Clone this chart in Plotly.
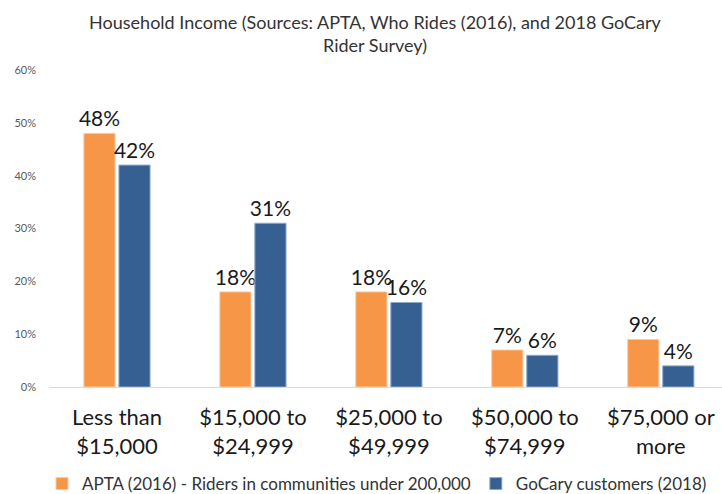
import plotly.graph_objects as go

categories = ["Less than<br>$15,000", "$15,000 to<br>$24,999", "$25,000 to<br>$49,999",
              "$50,000 to<br>$74,999", "$75,000 or<br>more"]
apta_values = [0.48, 0.18, 0.18, 0.07, 0.09]
gocary_values = [0.42, 0.31, 0.16, 0.06, 0.04]
series_names = ["APTA (2016) - Riders in communities under 200,000", "GoCary customers (2018)"]
y_ticks = [0, 0.1, 0.2, 0.3, 0.4, 0.5, 0.6]
y_tick_labels = ["0%", "10%", "20%", "30%", "40%", "50%", "60%"]

FONT = "Lato, Carlito, 'Open Sans', sans-serif"

fig = go.Figure()
fig.add_trace(go.Bar(
    x=categories, y=apta_values, name=series_names[0],
    marker=dict(color="#F79646", line=dict(color="#FBC9A0", width=1)),
    text=[f"{round(v*100)}%" for v in apta_values], textposition="outside",
    textfont=dict(size=21, color="#1a1a1a", family=FONT), cliponaxis=False,
    constraintext="none",
))
fig.add_trace(go.Bar(
    x=categories, y=gocary_values, name=series_names[1],
    marker=dict(color="#376092", line=dict(color="#8FA9C8", width=1)),
    text=[f"{round(v*100)}%" for v in gocary_values], textposition="outside",
    textfont=dict(size=21, color="#1a1a1a", family=FONT), cliponaxis=False,
    constraintext="none",
))

fig.update_layout(
    width=722, height=494,
    margin=dict(l=49, r=0, t=70, b=107, autoexpand=False),
    paper_bgcolor="white", plot_bgcolor="white",
    font=dict(family=FONT),
    title=dict(text="Household Income (Sources: APTA, Who Rides (2016), and 2018 GoCary<br>Rider Survey)",
               x=375/722, xanchor="center", xref="container", y=1 - 29/494, yanchor="middle",
               font=dict(size=18, color="#333333", family=FONT)),
    barmode="group", bargap=0.485, bargroupgap=0.11,
    showlegend=True,
    legend=dict(orientation="h", x=377/722, xanchor="center", xref="container",
                y=-97/317, yanchor="middle",
                font=dict(size=17, color="#333333", family=FONT),
                itemwidth=30, tracegroupgap=0),
    xaxis=dict(range=[-0.5, 4.45], showline=True, linecolor="#D9D9D9", linewidth=1,
               showgrid=False, ticks="", tickangle=0, automargin=False,
               tickfont=dict(size=22, color="#1a1a1a", family=FONT),
               ticklabelstandoff=11),
    yaxis=dict(range=[0, 0.6], tickvals=y_ticks, ticktext=y_tick_labels, showgrid=False,
               zeroline=False, showline=False, ticks="", automargin=False,
               tickfont=dict(size=11, color="#595959", family=FONT), ticklabelstandoff=12),
)

fig.write_html("out.html", config={"displayModeBar": False},
               post_script="document.body.style.margin='0px';")
